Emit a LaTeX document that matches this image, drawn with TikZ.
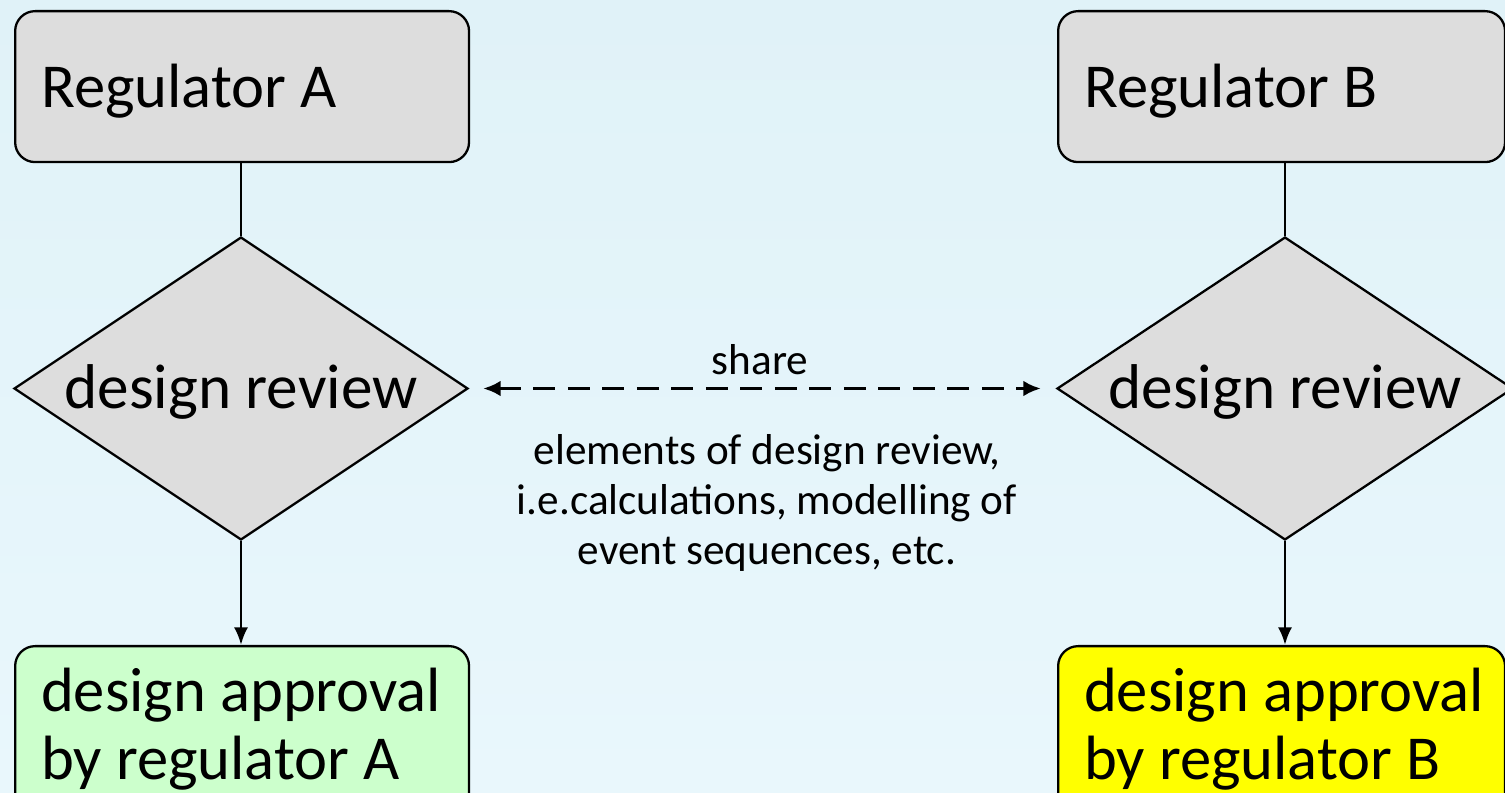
\documentclass[tikz,border=0pt]{standalone}
\usepackage{fontspec}
\setmainfont{Carlito}
\usetikzlibrary{shapes.geometric,arrows.meta}
\definecolor{bgtop}{RGB}{224,242,248}
\definecolor{bgbot}{RGB}{233,247,252}
\definecolor{boxgray}{RGB}{221,221,221}
\definecolor{okgreen}{RGB}{204,255,204}
\definecolor{okyellow}{RGB}{255,255,0}
\newcommand{\nsp}{\spaceskip=0pt\xspaceskip=0pt\relax}
\tikzset{
  rbox/.style={draw=black, line width=1.3pt, rounded corners=0.4cm, inner xsep=0.52cm, inner ysep=0pt,
     align=left, font=\fontsize{35.6}{38.5}\selectfont, anchor=north west},
  dmd/.style={draw=black, line width=1.3pt, diamond, fill=boxgray, inner sep=0pt},
  bigtxt/.style={font=\fontsize{36}{38.5}\selectfont, inner sep=0pt},
  smalltxt/.style={font=\fontsize{24.6}{28.4}\selectfont, align=center, inner sep=0pt},
  conn/.style={line width=1.6pt},
  share/.style={line width=2pt, dash pattern=on 0.44cm off 0.25cm,
     {Latex[length=10pt,width=9pt]}-{Latex[length=10pt,width=9pt]}}
}
\begin{document}
\begin{tikzpicture}[x=0.02cm,y=-0.02cm]
\clip (0,0) rectangle (1505,793);
\shade[top color=bgtop, bottom color=bgbot] (0,0) rectangle (1505,793);
% top boxes
\node[rbox, fill=boxgray, minimum width=9.08cm, minimum height=3.02cm, text width=8.04cm, text depth=0.02cm] (rA) at (14,10) {\nsp\mbox{Regulator A}};
\node[rbox, fill=boxgray, minimum width=8.94cm, minimum height=3.02cm, text width=7.9cm, text depth=0.02cm] (rB) at (1057,10) {\nsp\mbox{Regulator B}};
% diamonds
\node[dmd, minimum width=9.08cm, minimum height=6.06cm] (dA) at (241,388.5) {};
\node[dmd, minimum width=9.12cm, minimum height=6.06cm] (dB) at (1285,388.5) {};
\node[bigtxt] (tA) at (241,392) {design review};
\node[bigtxt] (tB) at (1285,392) {design review};
% approval boxes
\node[rbox, fill=okgreen, minimum width=9.08cm, minimum height=3.32cm, text width=8.04cm] (aA) at (14,645) {\nsp\mbox{design approval}\\\mbox{by regulator A}};
\node[rbox, fill=okyellow, minimum width=8.94cm, minimum height=3.32cm, text width=7.9cm] (aB) at (1057,645) {\nsp\mbox{design approval}\\\mbox{by regulator B}};
% connectors
\draw[conn] (rA.south -| dA.north) -- (dA.north);
\draw[conn] (rB.south -| dB.north) -- (dB.north);
\draw[conn, -{Latex[length=10pt,width=8pt]}] (dA.south) -- (dA.south |- aA.north);
\draw[conn, -{Latex[length=10pt,width=8pt]}] (dB.south) -- (dB.south |- aB.north);
\coordinate (sL) at ([xshift=0.28cm]dA.east);
\coordinate (sR) at ([xshift=-0.3cm]dB.west);
\draw[share] (sL) -- (sR);
\node[smalltxt] (lshare) at (760,360) {share};
\node[smalltxt] (ldesc) at (767,503) {elements of design review,\\i.e.calculations, modelling of\\event sequences, etc.};
\end{tikzpicture}
\end{document}
